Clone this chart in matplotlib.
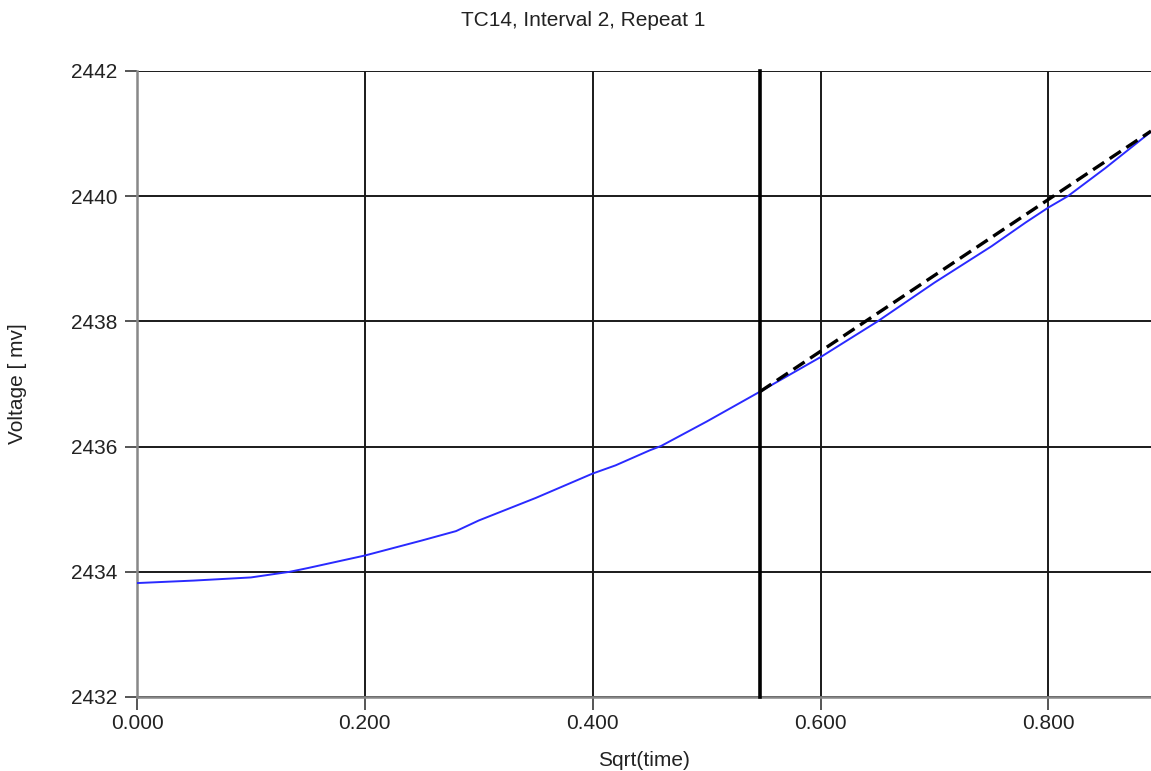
import matplotlib
matplotlib.use("Agg")
import matplotlib.pyplot as plt
from matplotlib.ticker import FormatStrFormatter

# Measured voltage vs sqrt(time)
sqrt_time = [0.000, 0.050, 0.100, 0.134, 0.150, 0.200, 0.250, 0.280, 0.300,
             0.350, 0.400, 0.420, 0.450, 0.460, 0.500, 0.547, 0.600, 0.650,
             0.700, 0.750, 0.780, 0.800, 0.817, 0.850, 0.890]
voltage = [2433.82, 2433.86, 2433.91, 2434.00, 2434.06, 2434.26, 2434.50,
           2434.65, 2434.82, 2435.18, 2435.57, 2435.70, 2435.94, 2436.01,
           2436.40, 2436.88, 2437.43, 2438.00, 2438.62, 2439.20, 2439.58,
           2439.82, 2440.00, 2440.45, 2441.03]

# Linear fit segment and the fit start marker
fit_x = [0.547, 0.890]
fit_y = [2436.88, 2441.04]
fit_start = 0.547

x_ticks = [0.0, 0.2, 0.4, 0.6, 0.8]
y_ticks = [2432, 2434, 2436, 2438, 2440, 2442]

plt.rcParams['font.family'] = ['Liberation Sans', 'DejaVu Sans']
text_color = '#222222'

fig = plt.figure(figsize=(11.51, 7.71), dpi=100)
ax = fig.add_axes([137 / 1151, 1 - 697 / 771, 1 - 137 / 1151, (697 - 71) / 771])

ax.set_xlim(0.0, 0.890)
ax.set_ylim(2432, 2442)
ax.set_xticks(x_ticks)
ax.set_yticks(y_ticks)
ax.xaxis.set_major_formatter(FormatStrFormatter('%.3f'))

ax.grid(True, color='#1a1a1a', linewidth=1.4)
ax.set_axisbelow(True)

for side in ('top', 'right'):
    ax.spines[side].set_visible(False)
for side in ('left', 'bottom'):
    ax.spines[side].set_color('#888888')
    ax.spines[side].set_linewidth(1.8)

ax.tick_params(axis='both', direction='out', length=9, width=1.4,
               color='#555555', labelsize=15, labelcolor=text_color)
ax.tick_params(axis='y', pad=5)
ax.tick_params(axis='x', pad=3)

ax.plot(sqrt_time, voltage, color='#2a2aff', linewidth=1.4, zorder=3)
ax.plot(fit_x, fit_y, color='black', linewidth=2.4, linestyle=(0, (4, 2)),
        zorder=4)
ax.axvline(fit_start, color='black', linewidth=2.6, zorder=4, clip_on=False)

ax.set_xlabel('Sqrt(time)', fontsize=15, color=text_color)
ax.set_ylabel('Voltage [ mv]', fontsize=15, color=text_color)
ax.xaxis.set_label_coords(0.5, -(760 - 697) / 626)
ax.xaxis.label.set_va('center')
ax.yaxis.set_label_coords(-(137 - 18) / 1014, 0.5)
ax.yaxis.label.set_va('center')

fig.text(583 / 1151, 1 - 20 / 771, 'TC14, Interval 2, Repeat 1', fontsize=15,
         color=text_color, ha='center', va='center')

fig.savefig('out.png', dpi=100)
